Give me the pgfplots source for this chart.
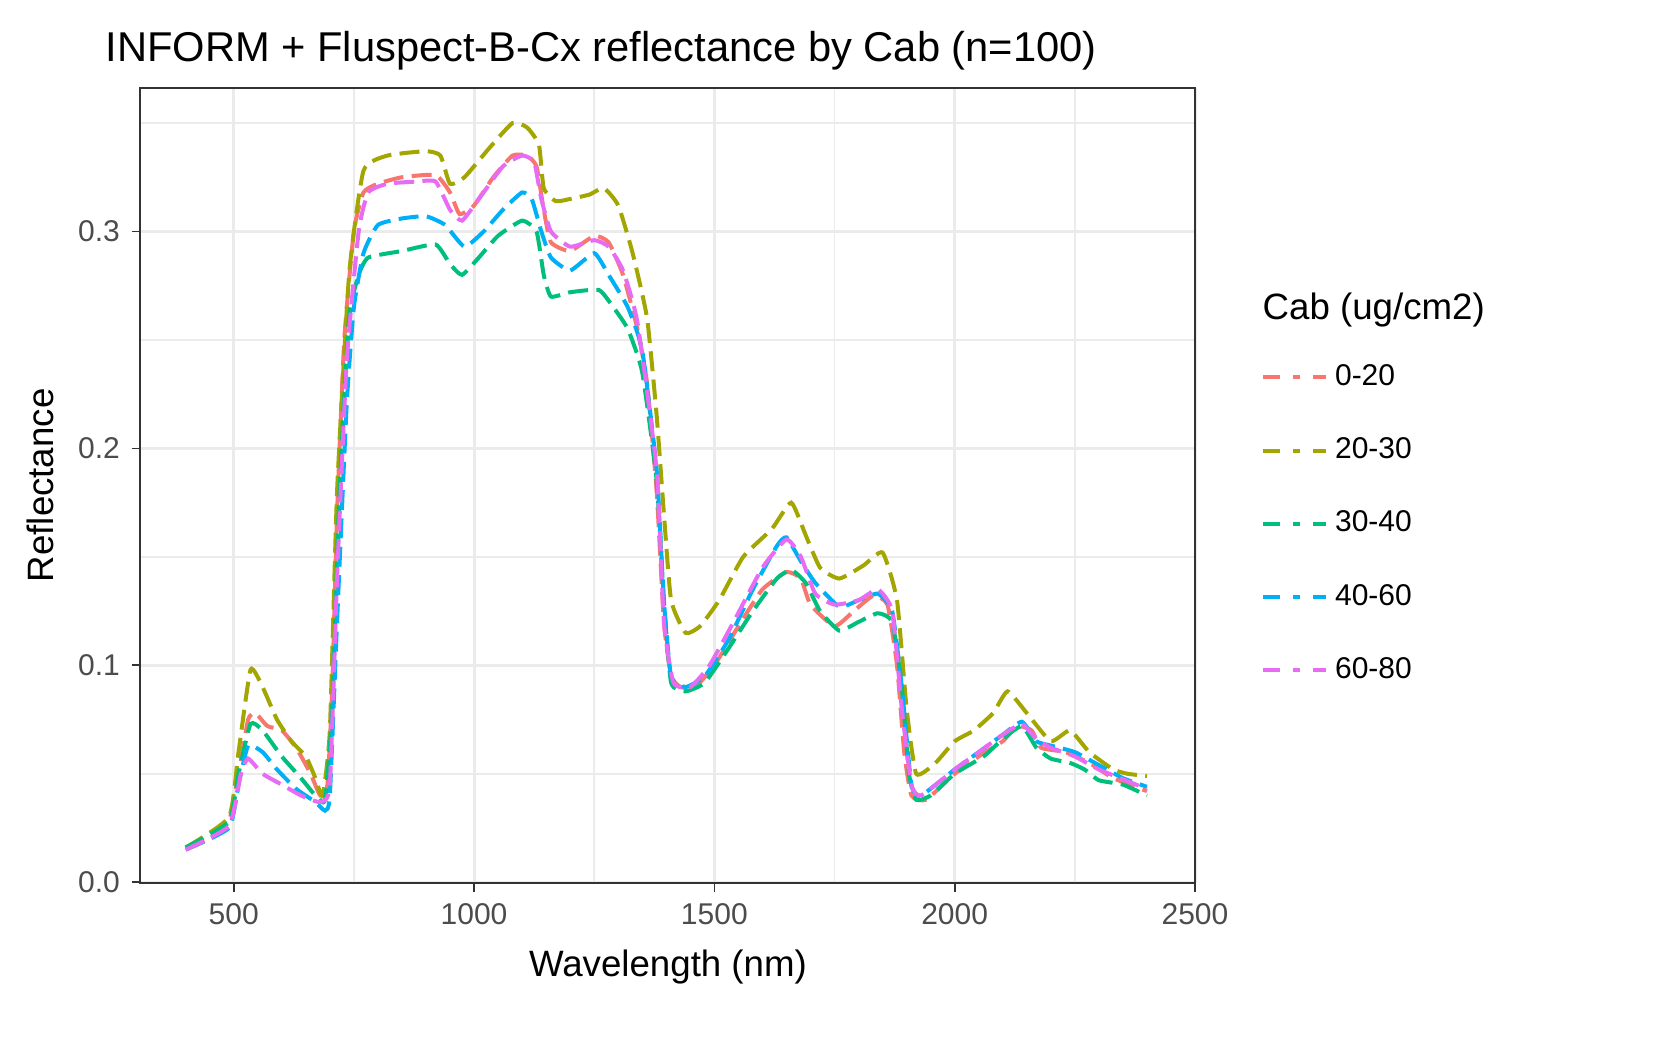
\documentclass[border=0pt]{standalone}
\usepackage{pgfplots}
\pgfplotsset{compat=1.18}
\usepackage{fontspec}
\setmainfont{Liberation Sans}
\definecolor{c1}{HTML}{F8766D}
\definecolor{c2}{HTML}{A3A500}
\definecolor{c3}{HTML}{00BF7D}
\definecolor{c4}{HTML}{00B0F6}
\definecolor{c5}{HTML}{E76BF3}
\definecolor{gridc}{HTML}{EBEBEB}
\begin{document}
\begin{tikzpicture}
\useasboundingbox (-42pt,-53.7pt) rectangle (453.9pt,265pt);
\begin{axis}[at={(0,0)},anchor=south west,scale only axis,width=316.5pt,height=238.5pt,
 xmin=305,xmax=2500,ymin=-0.0005,ymax=0.366,
 xtick={500,1000,1500,2000,2500},minor xtick={250,750,1250,1750,2250},
 ytick={0,0.1,0.2,0.3},yticklabels={0.0,0.1,0.2,0.3},minor ytick={0.05,0.15,0.25,0.35},
 xticklabel style={/pgf/number format/1000 sep={}},
 grid=both,major grid style={gridc,line width=0.9pt},minor grid style={gridc,line width=0.45pt},
 axis line style={black!80,line width=0.5pt},tick style={black!80,line width=0.5pt},
 major tick length=2.5pt,minor tick length=0pt,tick align=outside,xtick pos=bottom,ytick pos=left,
 ticklabel style={font=\fontsize{9}{10}\selectfont,text=black!70},
 /pgf/number format/assume math mode=true,
 legend style={at={(rel axis cs:1.062,0.662)},anchor=north west,draw=none,fill=none,
   font=\fontsize{9}{10}\selectfont,row sep=10.2pt,inner sep=0pt},
 legend cell align=left,
 every axis plot/.append style={line width=1.2pt,dash pattern=on 6pt off 2.5pt,smooth,tension=0.3,no marks},
 legend image code/.code={\draw[#1,dash pattern=on 5pt off 4pt on 2pt off 4pt] (0pt,0pt)--(19pt,0pt);},
]
\addplot[c1] coordinates {(400,0.016)(450,0.020)(490,0.028)(510,0.05)(530,0.075)(545,0.078)(570,0.072)(600,0.070)(630,0.062)(660,0.050)(680,0.040)(695,0.045)(705,0.09)(715,0.17)(730,0.25)(750,0.30)(770,0.318)(800,0.322)(850,0.325)(920,0.326)(950,0.318)(970,0.308)(1000,0.312)(1040,0.325)(1080,0.335)(1110,0.335)(1130,0.330)(1145,0.31)(1160,0.295)(1200,0.291)(1250,0.298)(1280,0.295)(1310,0.28)(1340,0.255)(1360,0.23)(1380,0.18)(1395,0.12)(1410,0.095)(1430,0.090)(1460,0.090)(1500,0.100)(1550,0.118)(1600,0.135)(1650,0.143)(1680,0.140)(1700,0.128)(1750,0.118)(1790,0.125)(1830,0.132)(1860,0.128)(1880,0.10)(1895,0.06)(1910,0.040)(1940,0.038)(2000,0.050)(2050,0.058)(2100,0.065)(2130,0.072)(2160,0.070)(2180,0.062)(2230,0.060)(2280,0.055)(2330,0.048)(2400,0.042)};
\addlegendentry{0-20}
\addplot[c2] coordinates {(400,0.016)(490,0.030)(510,0.06)(535,0.098)(560,0.090)(590,0.075)(620,0.065)(650,0.058)(670,0.048)(685,0.040)(700,0.07)(715,0.18)(740,0.28)(770,0.328)(820,0.335)(900,0.337)(930,0.335)(950,0.322)(980,0.325)(1030,0.338)(1080,0.350)(1110,0.348)(1135,0.34)(1145,0.32)(1170,0.314)(1200,0.315)(1240,0.317)(1270,0.320)(1300,0.312)(1330,0.290)(1360,0.260)(1380,0.215)(1395,0.17)(1410,0.13)(1440,0.115)(1470,0.118)(1510,0.130)(1560,0.150)(1620,0.163)(1660,0.175)(1690,0.160)(1720,0.145)(1760,0.140)(1810,0.146)(1850,0.152)(1880,0.13)(1900,0.08)(1920,0.050)(1960,0.055)(2000,0.065)(2040,0.070)(2080,0.078)(2110,0.088)(2150,0.078)(2200,0.065)(2240,0.070)(2280,0.060)(2330,0.052)(2360,0.050)(2400,0.049)};
\addlegendentry{20-30}
\addplot[c3] coordinates {(400,0.016)(490,0.028)(510,0.05)(535,0.073)(560,0.070)(600,0.058)(640,0.048)(670,0.040)(690,0.038)(705,0.08)(720,0.18)(740,0.26)(760,0.28)(780,0.288)(850,0.291)(920,0.294)(950,0.285)(975,0.280)(1010,0.288)(1050,0.298)(1100,0.305)(1130,0.300)(1145,0.28)(1160,0.270)(1200,0.272)(1260,0.273)(1290,0.265)(1320,0.255)(1350,0.235)(1380,0.185)(1395,0.13)(1410,0.092)(1440,0.088)(1480,0.092)(1530,0.108)(1580,0.125)(1630,0.140)(1660,0.144)(1690,0.138)(1720,0.125)(1760,0.116)(1800,0.120)(1840,0.124)(1870,0.120)(1890,0.09)(1905,0.05)(1920,0.038)(1950,0.040)(2000,0.050)(2060,0.058)(2100,0.066)(2140,0.072)(2170,0.062)(2200,0.057)(2240,0.055)(2270,0.052)(2300,0.047)(2350,0.045)(2400,0.040)};
\addlegendentry{30-40}
\addplot[c4] coordinates {(400,0.015)(490,0.025)(510,0.045)(530,0.063)(560,0.060)(590,0.052)(630,0.043)(670,0.037)(690,0.033)(700,0.040)(715,0.12)(735,0.22)(750,0.265)(770,0.290)(800,0.303)(850,0.306)(900,0.307)(940,0.303)(980,0.293)(1020,0.300)(1060,0.310)(1100,0.318)(1120,0.315)(1140,0.300)(1160,0.288)(1200,0.282)(1250,0.290)(1280,0.280)(1320,0.265)(1350,0.245)(1380,0.19)(1395,0.13)(1410,0.095)(1440,0.090)(1480,0.095)(1530,0.112)(1580,0.135)(1630,0.155)(1650,0.159)(1680,0.148)(1710,0.138)(1760,0.127)(1800,0.130)(1840,0.133)(1870,0.125)(1890,0.09)(1910,0.045)(1930,0.040)(2000,0.052)(2050,0.060)(2100,0.068)(2140,0.074)(2170,0.065)(2200,0.063)(2250,0.060)(2300,0.054)(2350,0.048)(2400,0.044)};
\addlegendentry{40-60}
\addplot[c5] coordinates {(400,0.015)(490,0.026)(515,0.05)(530,0.057)(560,0.050)(600,0.045)(640,0.040)(680,0.037)(700,0.045)(715,0.14)(735,0.24)(760,0.300)(780,0.318)(820,0.322)(880,0.323)(920,0.323)(950,0.310)(975,0.305)(1010,0.315)(1060,0.330)(1100,0.335)(1125,0.332)(1140,0.315)(1160,0.300)(1200,0.293)(1250,0.296)(1280,0.293)(1310,0.282)(1340,0.258)(1380,0.19)(1395,0.12)(1415,0.092)(1450,0.090)(1490,0.100)(1540,0.120)(1600,0.145)(1650,0.158)(1680,0.150)(1710,0.133)(1750,0.128)(1800,0.130)(1840,0.135)(1870,0.125)(1890,0.08)(1910,0.045)(1930,0.040)(2000,0.052)(2050,0.060)(2100,0.068)(2140,0.073)(2170,0.066)(2200,0.062)(2250,0.058)(2300,0.052)(2400,0.043)};
\addlegendentry{60-80}
\end{axis}
\node[anchor=base west,font=\fontsize{12.5}{14}\selectfont,inner sep=0pt] at (-10.5pt,246.5pt) {INFORM + Fluspect-B-Cx reflectance by Cab (n=100)};
\node[anchor=base,font=\fontsize{11}{13}\selectfont,inner sep=0pt] at (158.4pt,-28pt) {Wavelength (nm)};
\node[anchor=base,rotate=90,font=\fontsize{11}{13}\selectfont,inner sep=0pt] at (-26pt,119.4pt) {Reflectance};
\node[anchor=base west,font=\fontsize{11}{13}\selectfont,inner sep=0pt] at (336.6pt,169pt) {Cab (ug/cm2)};
\end{tikzpicture}
\end{document}
